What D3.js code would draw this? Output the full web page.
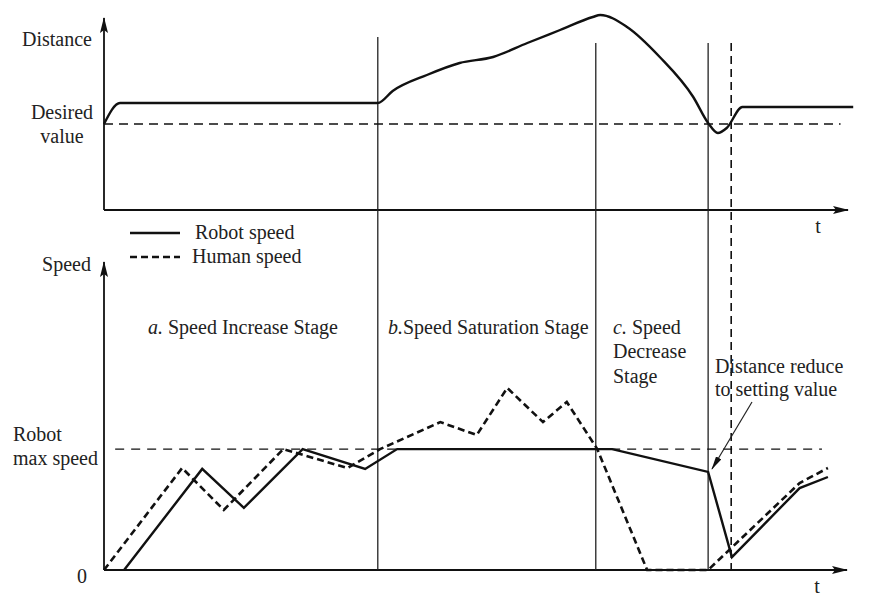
<!DOCTYPE html>
<html>
<head>
<meta charset="utf-8">
<script src="https://cdn.jsdelivr.net/npm/d3@7"></script>
<style>
  html, body { margin: 0; padding: 0; background: #fff; }
</style>
</head>
<body>
<div id="container"></div>
<script>
// time runs 0..100 on both panels, values 0..100 on each y scale
var distT = [0, 2.15, 36.8, 38.8, 43.4, 47.8, 52.3, 56.9, 61.3, 65.7, 66.7, 70.3, 74.7, 79.2, 81.2, 82.5, 83.7, 85.8, 100.7]
var distV = [43, 53.5, 53.5, 59.5, 67.5, 73.5, 76.5, 83.5, 90, 96.5, 97.5, 91.5, 76.5, 56.5, 43.5, 38.5, 41, 51.5, 51.5]
var desiredValue = 43

var robotT = [2.7, 13.2, 18.8, 26.7, 35.1, 39.4, 68.3, 81.2, 84.4, 93.5, 97.3]
var robotV = [0, 33.7, 20.7, 40.3, 33.7, 40.3, 40.3, 32.7, 4.3, 27.3, 31]
var humanT = [0, 10.5, 16.1, 24.1, 32.7, 37.1, 45.2, 50.1, 54.2, 59, 62.2, 66.3, 73, 81.2, 93.5, 97.3]
var humanV = [0, 34, 20, 40.3, 34, 40.3, 49.3, 45, 60.7, 49.3, 56, 40.3, 0, 0, 29, 34]
var maxSpeed = 40.3

var stageT = [36.8, 66.1, 81.2]
var reachT = 84.3

var legendNames = ["Robot speed", "Human speed"]

var width = 874, height = 611
var FONT = "'Liberation Serif', 'Times New Roman', Tinos, serif"

var svg = d3.select("#container").append("svg")
  .attr("width", width)
  .attr("height", height)

var x = d3.scaleLinear().domain([0, 100]).range([104, 848])
var yDist = d3.scaleLinear().domain([0, 100]).range([210, 10])
var ySpeed = d3.scaleLinear().domain([0, 100]).range([570, 270])

var defs = svg.append("defs")
defs.append("marker")
  .attr("id", "arrow")
  .attr("markerUnits", "userSpaceOnUse")
  .attr("viewBox", "0 0 16 8")
  .attr("refX", 15).attr("refY", 4)
  .attr("markerWidth", 16).attr("markerHeight", 8)
  .attr("orient", "auto")
  .append("path")
  .attr("d", "M0,0 L16,4 L0,8 L3,4 Z")
  .attr("fill", "#111")
defs.append("marker")
  .attr("id", "thin")
  .attr("markerUnits", "userSpaceOnUse")
  .attr("viewBox", "0 0 14 6")
  .attr("refX", 13).attr("refY", 3)
  .attr("markerWidth", 14).attr("markerHeight", 6)
  .attr("orient", "auto")
  .append("path")
  .attr("d", "M0,0 L14,3 L0,6 Z")
  .attr("fill", "#111")

function axisLine(x1, y1, x2, y2) {
  svg.append("line")
    .attr("x1", x1).attr("y1", y1).attr("x2", x2).attr("y2", y2)
    .attr("stroke", "#111").attr("stroke-width", 1.8)
    .attr("marker-end", "url(#arrow)")
}

// axes
axisLine(x(0), yDist(0), x(0), 18)
axisLine(x(0), yDist(0), x(100), yDist(0))
axisLine(x(0), ySpeed(0), x(0), 262)
axisLine(x(0), ySpeed(0), x(100) - 1, ySpeed(0))

// stage borders
svg.selectAll(".stage")
  .data(stageT)
  .enter().append("line")
  .attr("class", "stage")
  .attr("x1", d => x(d)).attr("x2", d => x(d))
  .attr("y1", (d, i) => i == 0 ? 37 : 43)
  .attr("y2", ySpeed(0))
  .attr("stroke", "#222").attr("stroke-width", 1.3)

svg.append("line")
  .attr("x1", x(reachT)).attr("x2", x(reachT))
  .attr("y1", 43).attr("y2", 576)
  .attr("stroke", "#111").attr("stroke-width", 1.6)
  .attr("stroke-dasharray", "8,5")

// reference lines
svg.append("line")
  .attr("x1", x(0)).attr("x2", x(99))
  .attr("y1", yDist(desiredValue)).attr("y2", yDist(desiredValue))
  .attr("stroke", "#111").attr("stroke-width", 1.4)
  .attr("stroke-dasharray", "9,6")

svg.append("line")
  .attr("x1", x(1.5)).attr("x2", x(96.5))
  .attr("y1", ySpeed(maxSpeed)).attr("y2", ySpeed(maxSpeed))
  .attr("stroke", "#111").attr("stroke-width", 1.4)
  .attr("stroke-dasharray", "9,7")

// curves
var distLine = d3.line()
  .x(d => x(d[0])).y(d => yDist(d[1]))
  .curve(d3.curveMonotoneX)
svg.append("path")
  .attr("d", distLine(d3.zip(distT, distV)))
  .attr("fill", "none").attr("stroke", "#111").attr("stroke-width", 2.4)

var speedLine = d3.line()
  .x(d => x(d[0])).y(d => ySpeed(d[1]))

svg.append("path")
  .attr("d", speedLine(d3.zip(humanT, humanV)))
  .attr("fill", "none").attr("stroke", "#111").attr("stroke-width", 2.6)
  .attr("stroke-dasharray", "7,4")

svg.append("path")
  .attr("d", speedLine(d3.zip(robotT, robotV)))
  .attr("fill", "none").attr("stroke", "#111").attr("stroke-width", 2.4)

// legend
var legend = svg.selectAll(".legend")
  .data(legendNames)
  .enter().append("g")
  .attr("class", "legend")
  .attr("transform", (d, i) => "translate(130," + (233 + i * 24) + ")")
legend.append("line")
  .attr("x1", 0).attr("x2", 50)
  .attr("stroke", "#111").attr("stroke-width", 2.4)
  .attr("stroke-dasharray", (d, i) => i == 0 ? null : "7,4")
legend.append("text")
  .attr("x", (d, i) => i == 0 ? 65 : 62)
  .attr("y", 6)
  .style("font-family", FONT)
  .style("font-size", "20px")
  .style("fill", "#222")
  .text(d => d)

// labels
function label(txt, lx, ly, anchor) {
  return svg.append("text")
    .attr("x", lx).attr("y", ly)
    .attr("text-anchor", anchor || "start")
    .style("font-family", FONT)
    .style("font-size", "20px")
    .style("fill", "#222")
    .text(txt)
}
label("Distance", 92, 46, "end")
label("Desired", 62, 119, "middle")
label("value", 62, 143, "middle")
label("t", 818, 233, "middle")
label("Speed", 91, 271, "end")
label("Robot", 13, 441)
label("max speed", 13, 465)
label("0", 82, 583, "middle")
label("t", 817, 593, "middle")

var a = label("", 148, 334)
a.append("tspan").style("font-style", "italic").text("a.")
a.append("tspan").text(" Speed Increase Stage")

var b = label("", 388, 334)
b.append("tspan").style("font-style", "italic").text("b.")
b.append("tspan").text("Speed Saturation Stage")

var c = label("", 613, 334)
c.append("tspan").style("font-style", "italic").text("c.")
c.append("tspan").text(" Speed")
label("Decrease", 613, 358)
label("Stage", 613, 383)

label("Distance reduce", 715, 373)
label("to setting value", 715, 396)

svg.append("line")
  .attr("x1", 752).attr("y1", 402)
  .attr("x2", 712).attr("y2", 469)
  .attr("stroke", "#222").attr("stroke-width", 1.2)
  .attr("marker-end", "url(#thin)")
</script>
</body>
</html>
